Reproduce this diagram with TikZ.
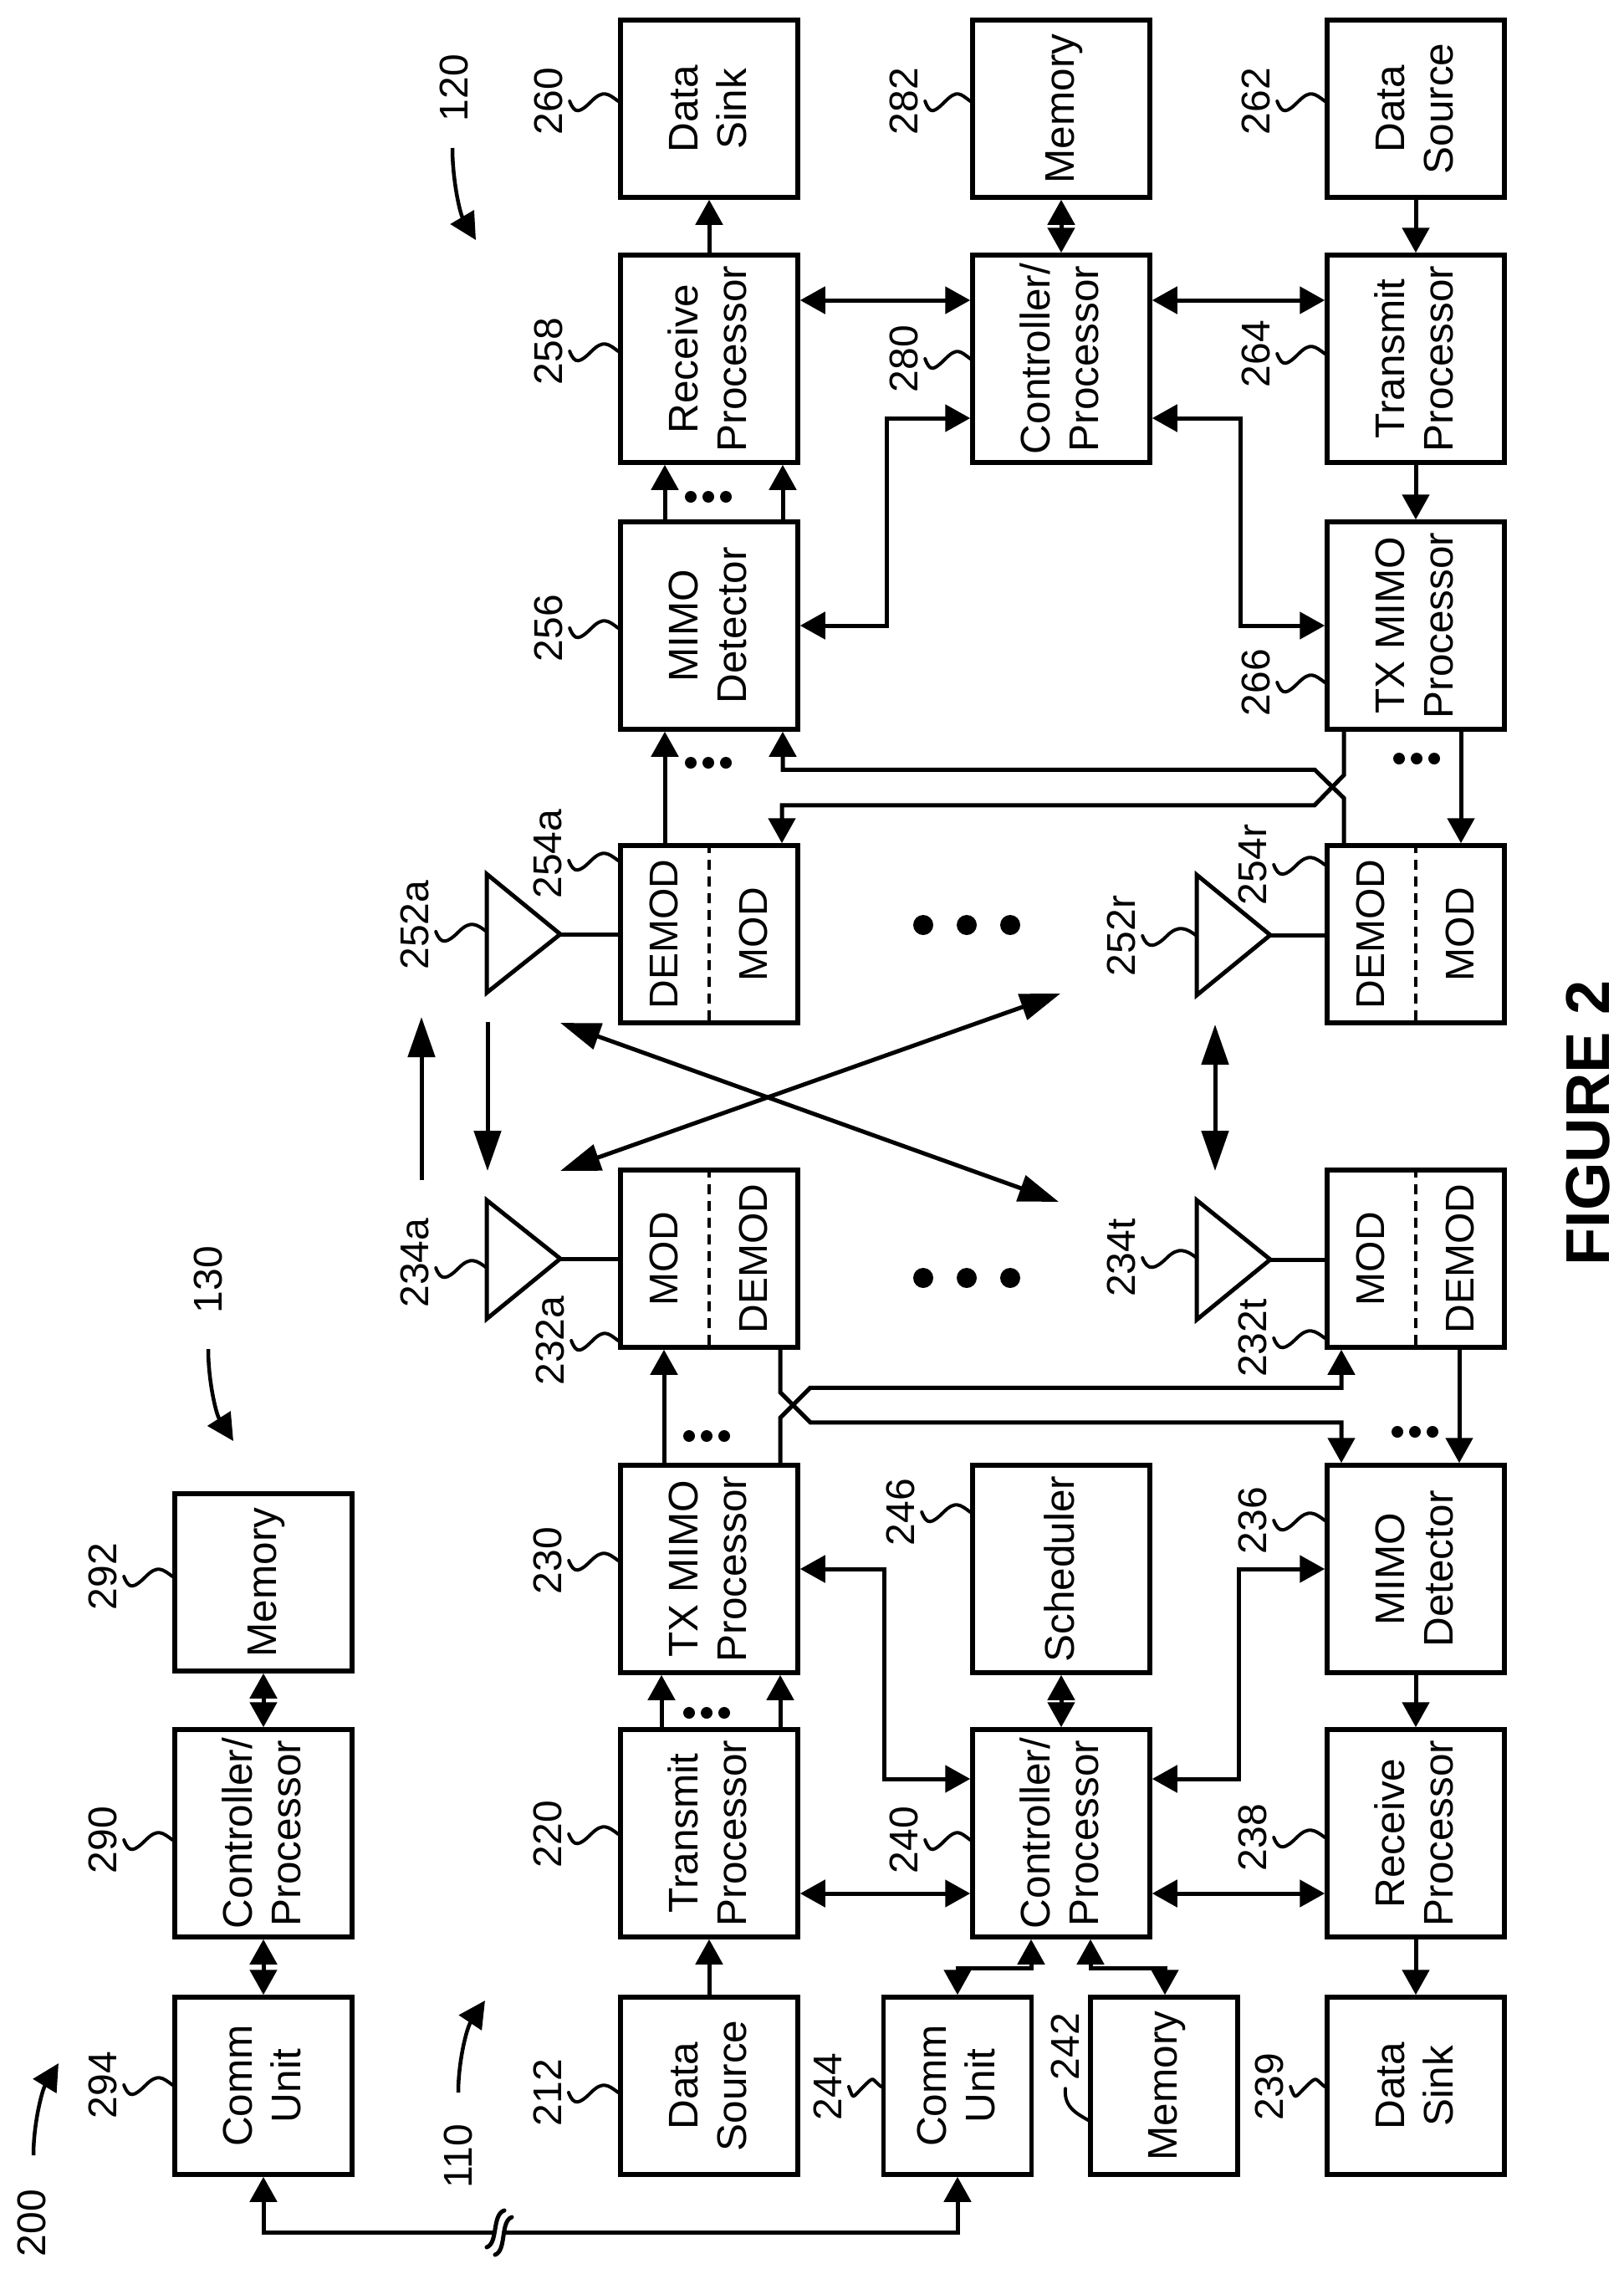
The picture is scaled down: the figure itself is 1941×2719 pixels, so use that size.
\documentclass[tikz,border=0pt]{standalone}
\usepackage{fontspec}
\setmainfont{Liberation Sans}
\usetikzlibrary{arrows.meta,calc}
\newcommand{\rlab}[1]{\hspace*{7pt}\rotatebox{90}{\begin{tabular}{@{}c@{}}#1\end{tabular}}}
\newcommand{\numlead}[3][0]{%
\coordinate (la) at ([xshift=8pt,yshift=-#1pt]#2.south);
\coordinate (lb) at (#3 |- la);
\draw [lead] (la) .. controls +(6,16) and +(-14,14) .. ($(la)!.45!(lb)$) .. controls +(14,-14) and +(-12,-9) .. (lb);}
\newcommand{\tdots}[2]{%
\fill (#1-21,#2) circle (7);
\fill (#1,#2) circle (7);
\fill (#1+21,#2) circle (7);}
\newcommand{\bdots}[1]{%
\fill (1104,#1) circle (12);
\fill (1156,#1) circle (12);
\fill (1208,#1) circle (12);}
\tikzset{
  blk/.style={draw,line width=5.5pt,inner sep=0pt,minimum width=212pt,font=\fontsize{49.5}{58}\selectfont},
  blkshort/.style={blk,minimum height=212pt},
  blktall/.style={blk,minimum height=248pt},
  numlab/.style={rotate=90,inner sep=0pt,font=\fontsize{48}{48}\selectfont},
  modlab/.style={rotate=90,inner sep=0pt,font=\fontsize{48}{48}\selectfont},
  lead/.style={line width=4pt,line cap=round},
  wire/.style={line width=5pt},
  arr/.style={line width=5pt,-{Triangle[length=30pt,width=32pt]}},
  dbl/.style={line width=5pt,{Triangle[length=30pt,width=32pt]}-{Triangle[length=30pt,width=32pt]}},
  lng/.style={line width=5pt,-{Triangle[length=48pt,width=32pt]}},
  lngdbl/.style={line width=5pt,{Triangle[length=48pt,width=32pt]}-{Triangle[length=48pt,width=32pt]}},
  bnd/.style={line width=4.5pt,-{Triangle[length=32pt,width=32pt]}},
  divd/.style={line width=4.5pt,dash pattern=on 12pt off 8pt}
}
\begin{document}
\begin{tikzpicture}[x=1pt,y=-1pt]
\useasboundingbox (0,0) rectangle (1941,2719);
% left column
\node [blkshort] (b294) at (315,2494) {\rlab{Comm\\Unit}};
\node [blktall] (b290) at (315,2192) {\rlab{Controller/\\Processor}};
\node [blkshort] (b292) at (315,1892) {\rlab{Memory}};
% base station side
\node [blkshort] (b212) at (848,2494) {\rlab{Data\\Source}};
\node [blktall] (b220) at (848,2192) {\rlab{Transmit\\Processor}};
\node [blktall] (b230) at (848,1876) {\rlab{TX MIMO\\Processor}};
\node [blkshort] (b232a) at (848,1505) {};
\node [blkshort] (b232t) at (1693,1505) {};
\node [blktall] (b236) at (1693,1876) {\rlab{MIMO\\Detector}};
\node [blktall] (b238) at (1693,2192) {\rlab{Receive\\Processor}};
\node [blkshort] (b239) at (1693,2494) {\rlab{Data\\Sink}};
\node [blktall] (b240) at (1269,2192) {\rlab{Controller/\\Processor}};
\node [blktall] (b246) at (1269,1876) {\rlab{Scheduler}};
\node [blkshort,minimum width=177pt] (b244) at (1145,2494) {\rlab{Comm\\Unit}};
\node [blkshort,minimum width=176pt] (b242) at (1392,2494) {\rlab{Memory}};
% terminal side
\node [blkshort] (b254a) at (848,1117) {};
\node [blkshort] (b254r) at (1693,1117) {};
\node [blktall] (b256) at (848,748) {\rlab{MIMO\\Detector}};
\node [blktall] (b258) at (848,429) {\rlab{Receive\\Processor}};
\node [blkshort] (b260) at (848,130) {\rlab{Data\\Sink}};
\node [blktall] (b280) at (1269,429) {\rlab{Controller/\\Processor}};
\node [blkshort] (b282) at (1269,130) {\rlab{Memory}};
\node [blkshort] (b262) at (1693,130) {\rlab{Data\\Source}};
\node [blktall] (b264) at (1693,429) {\rlab{Transmit\\Processor}};
\node [blktall] (b266) at (1693,748) {\rlab{TX MIMO\\Processor}};
% mod boxes
\node [modlab] (m232a) at (794,1505) {MOD};
\node [modlab] (d232a) at (901,1505) {DEMOD};
\node [modlab] (m232t) at (1639,1505) {MOD};
\node [modlab] (d232t) at (1746,1505) {DEMOD};
\node [modlab] (d254a) at (794,1117) {DEMOD};
\node [modlab] (m254a) at (901,1117) {MOD};
\node [modlab] (d254r) at (1639,1117) {DEMOD};
\node [modlab] (m254r) at (1746,1117) {MOD};
\draw [divd] (b232a.north) -- (b232a.south);
\draw [divd] (b232t.north) -- (b232t.south);
\draw [divd] (b254a.north) -- (b254a.south);
\draw [divd] (b254r.north) -- (b254r.south);
% antennas
\coordinate (k252a) at (582,1117);
\coordinate (k234a) at (582,1505);
\coordinate (k252r) at (1431,1118);
\coordinate (k234t) at (1431,1506);
\draw [wire,line join=miter] (k252a) ++(0,-72) -- ++(88,72) -- ++(-88,70) -- cycle;
\draw [wire,line join=miter] (k234a) ++(0,-70) -- ++(88,70) -- ++(-88,72) -- cycle;
\draw [wire,line join=miter] (k252r) ++(0,-72) -- ++(88,72) -- ++(-88,72) -- cycle;
\draw [wire,line join=miter] (k234t) ++(0,-71) -- ++(88,71) -- ++(-88,72) -- cycle;
\draw [wire] ([xshift=88pt]k252a) -- (k252a -| b254a.west);
\draw [wire] ([xshift=88pt]k234a) -- (k234a -| b232a.west);
\draw [wire] ([xshift=88pt]k252r) -- (k252r -| b254r.west);
\draw [wire] ([xshift=88pt]k234t) -- (k234t -| b232t.west);
% numbers
\node [numlab] (n294) at (123,2493) {294};
\node [numlab] (n290) at (123,2200) {290};
\node [numlab] (n292) at (123,1885) {292};
\node [numlab] (n212) at (655,2502) {212};
\node [numlab] (n220) at (655,2193) {220};
\node [numlab] (n230) at (655,1866) {230};
\node [numlab] (n232a) at (658,1603) {232a};
\node [numlab] (n234a) at (496,1510) {234a};
\node [numlab] (n252a) at (496,1106) {252a};
\node [numlab] (n254a) at (655,1021) {254a};
\node [numlab] (n256) at (656,751) {256};
\node [numlab] (n258) at (656,420) {258};
\node [numlab] (n260) at (656,121) {260};
\node [numlab] (n244) at (990,2495) {244};
\node [numlab] (n242) at (1274,2447) {242};
\node [numlab] (n240) at (1081,2200) {240};
\node [numlab] (n246) at (1077,1808) {246};
\node [numlab] (n280) at (1081,429) {280};
\node [numlab] (n282) at (1081,121) {282};
\node [numlab] (n239) at (1518,2495) {239};
\node [numlab] (n238) at (1498,2197) {238};
\node [numlab] (n236) at (1498,1818) {236};
\node [numlab] (n232t) at (1498,1600) {232t};
\node [numlab] (n234t) at (1341,1504) {234t};
\node [numlab] (n252r) at (1341,1119) {252r};
\node [numlab] (n254r) at (1498,1034) {254r};
\node [numlab] (n266) at (1502,816) {266};
\node [numlab] (n264) at (1502,423) {264};
\node [numlab] (n262) at (1502,121) {262};
\node [numlab] (n200) at (38,2658) {200};
\node [numlab] (n110) at (548,2578) {110};
\node [numlab] (n120) at (543,105) {120};
\node [numlab] (n130) at (249,1530) {130};
\numlead{n294}{b294.west}
\numlead{n290}{b290.west}
\numlead{n292}{b292.west}
\numlead{n212}{b212.west}
\numlead{n220}{b220.west}
\numlead{n230}{b230.west}
\numlead{n232a}{b232a.west}
\numlead[6]{n234a}{k234a}
\numlead[8]{n252a}{k252a}
\numlead[8]{n254a}{b254a.west}
\numlead{n256}{b256.west}
\numlead{n258}{b258.west}
\numlead{n260}{b260.west}
\numlead{n244}{b244.west}
\numlead{n240}{b240.west}
\numlead{n246}{b246.west}
\numlead{n280}{b280.west}
\numlead{n282}{b282.west}
\numlead{n239}{b239.west}
\numlead{n238}{b238.west}
\numlead{n236}{b236.west}
\numlead{n232t}{b232t.west}
\numlead{n234t}{k234t}
\numlead{n252r}{k252r}
\numlead{n254r}{b254r.west}
\numlead{n266}{b266.west}
\numlead{n264}{b264.west}
\numlead{n262}{b262.west}
\draw [lead] ([yshift=-10pt]n242.west) .. controls +(-2,22) and +(-14,-8) .. (b242.west |- 0,2535);
% links in the left column
\draw [dbl] (b294.north) -- (b290.south);
\draw [dbl] (b290.north) -- (b292.south);
\coordinate (brkL) at (590,2669);
\coordinate (brkR) at (603,2669);
\draw [arr] (brkL) -| (b294.south);
\draw [arr] (brkR) -| (b244.south);
\draw [wire,line cap=round] (582,2687) .. controls (596,2682) and (588,2648) .. (603,2643);
\draw [wire,line cap=round] (592,2696) .. controls (606,2691) and (598,2656) .. (612,2651);
% links on the lower half
\draw [arr] (b212.north) -- (b220.south);
\draw [arr] ([xshift=-57pt]b220.north) -- ([xshift=-57pt]b230.south);
\draw [arr] ([xshift=85pt]b220.north) -- ([xshift=85pt]b230.south);
\draw [arr] ([xshift=-54pt]b230.north) -- ([xshift=-54pt]b232a.south);
\draw [arr] ([xshift=85pt]b230.north) -- ++(0,-54) -- ++(36,-36) -| ([xshift=-89pt]b232t.south);
\draw [arr] ([xshift=85pt]b232a.south) -- ++(0,51) -- ++(36,36) -| ([xshift=-89pt]b236.north);
\draw [arr] ([xshift=52pt]b232t.south) -- ([xshift=52pt]b236.north);
\draw [arr] (b236.south) -- (b238.north);
\draw [arr] (b238.south) -- (b239.north);
\draw [dbl] (b220.east |- 0,2264) -- (b240.west |- 0,2264);
\draw [dbl] (b240.east |- 0,2264) -- (b238.west |- 0,2264);
\draw [dbl] (b240.north) -- (b246.south);
\coordinate (j230) at (1057,2127);
\coordinate (j236) at (1481,2127);
\draw [dbl] (b230.east) -| (j230) -- (j230 -| b240.west);
\draw [dbl] (b236.west) -| (j236) -- (j236 -| b240.east);
\coordinate (j244) at (1145,2353);
\coordinate (j242) at (1393,2353);
\draw [dbl] (b240.south -| 1233,0) |- (j244) -- (j244 |- b244.north);
\draw [dbl] (b240.south -| 1304,0) |- (j242) -- (j242 |- b242.north);
% links on the upper half
\draw [arr] (b258.north) -- (b260.south);
\draw [arr] ([xshift=-53pt]b256.north) -- ([xshift=-53pt]b258.south);
\draw [arr] ([xshift=88pt]b256.north) -- ([xshift=88pt]b258.south);
\draw [arr] ([xshift=-53pt]b254a.north) -- ([xshift=-53pt]b256.south);
\draw [arr] ([xshift=-86pt]b266.south) -- ++(0,52) -- ++(-35,36) -| ([xshift=87pt]b254a.north);
\draw [arr] ([xshift=-86pt]b254r.north) -- ++(0,-54) -- ++(-35,-34) -| ([xshift=88pt]b256.south);
\draw [arr] ([xshift=54pt]b266.south) -- ([xshift=54pt]b254r.north);
\draw [arr] (b262.south) -- (b264.north);
\draw [arr] (b264.south) -- (b266.north);
\draw [dbl] (b282.south) -- (b280.north);
\draw [dbl] (b258.east |- 0,359) -- (b280.west |- 0,359);
\draw [dbl] (b280.east |- 0,359) -- (b264.west |- 0,359);
\coordinate (j256) at (1060,500);
\coordinate (j266) at (1483,500);
\draw [dbl] (b256.east) -| (j256) -- (j256 -| b280.west);
\draw [dbl] (b266.west) -| (j266) -- (j266 -| b280.east);
% over the air
\coordinate (up1) at (504,1411);
\coordinate (up2) at (504,1216);
\coordinate (dn1) at (583,1222);
\coordinate (dn2) at (583,1400);
\coordinate (xa1) at (670,1223);
\coordinate (xa2) at (1266,1437);
\coordinate (xb1) at (670,1400);
\coordinate (xb2) at (1268,1188);
\coordinate (vv1) at (1453,1225);
\coordinate (vv2) at (1453,1400);
\draw [lng] (up1) -- (up2);
\draw [lng] (dn1) -- (dn2);
\draw [lngdbl] (xa1) -- (xa2);
\draw [lngdbl] (xb1) -- (xb2);
\draw [lngdbl] (vv1) -- (vv2);
% reference arrows
\draw [bnd] (40,2577) .. controls (40,2540) and (50,2500) .. (70,2467);
\draw [bnd] (548,2502) .. controls (548,2465) and (558,2425) .. (580,2392);
\draw [bnd] (541,177) .. controls (541,215) and (550,255) .. (569,287);
\draw [bnd] (249,1613) .. controls (249,1650) and (258,1690) .. (279,1723);
% dots
\tdots{845}{2048}
\tdots{845}{1717}
\tdots{1692}{1712}
\tdots{847}{594}
\tdots{847}{912}
\tdots{1694}{907}
\bdots{1106}
\bdots{1528}
\node [rotate=90,inner sep=0pt,font=\fontsize{74}{74}\selectfont\bfseries] (fig2) at (1899,1343) {FIGURE 2};
\end{tikzpicture}
\end{document}
